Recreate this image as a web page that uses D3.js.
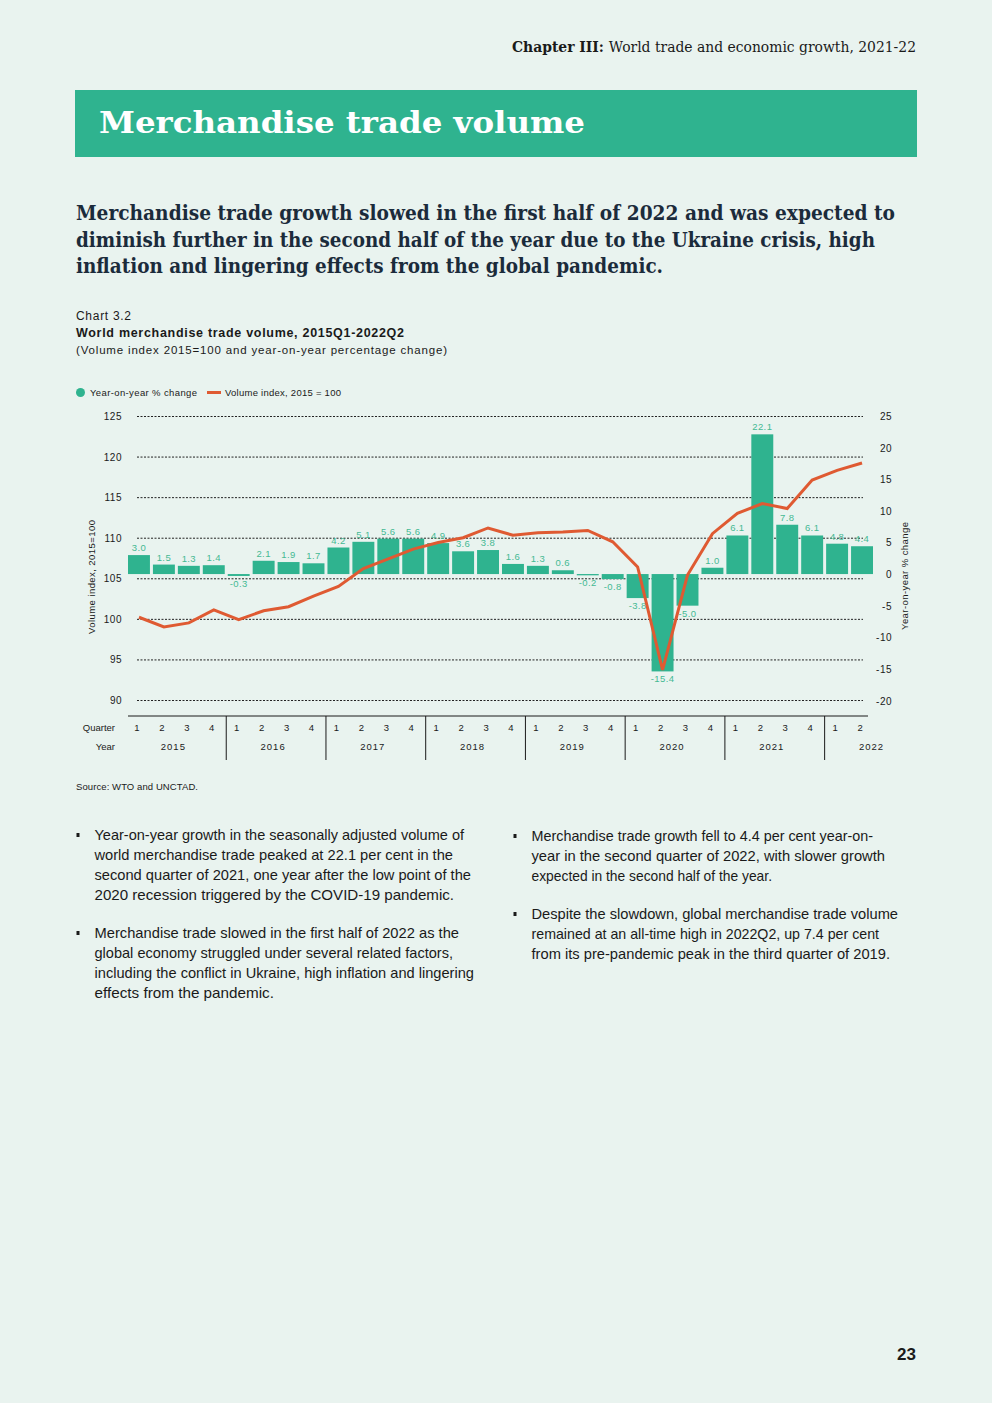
<!DOCTYPE html>
<html>
<head>
<meta charset="utf-8">
<script src="https://cdn.jsdelivr.net/npm/d3@7"></script>
<style>
  body { margin: 0; background: #e9f3ef; }
  svg { display: block; }
</style>
</head>
<body>
<svg id="page" width="992" height="1403"></svg>
<script>
// ---- data ----
var years = ["2015", "2016", "2017", "2018", "2019", "2020", "2021", "2022"];
var quarters = ["1", "2", "3", "4", "1", "2", "3", "4", "1", "2", "3", "4", "1", "2", "3", "4",
                "1", "2", "3", "4", "1", "2", "3", "4", "1", "2", "3", "4", "1", "2"];
// year-on-year % change (bars)
var yoyChange = [3.0, 1.5, 1.3, 1.4, -0.3, 2.1, 1.9, 1.7, 4.2, 5.1, 5.6, 5.6, 4.9, 3.6, 3.8, 1.6,
                 1.3, 0.6, -0.2, -0.8, -3.8, -15.4, -5.0, 1.0, 6.1, 22.1, 7.8, 6.1, 4.8, 4.4];
// volume index 2015=100 (line)
var volumeIndex = [100.2, 99.0, 99.5, 101.1, 99.9, 101.0, 101.5, 102.8, 104.0, 106.2,
                   107.4, 108.6, 109.4, 110.0, 111.2, 110.3, 110.6, 110.7, 110.9, 109.5,
                   106.4, 93.7, 105.4, 110.5, 113.0, 114.2, 113.6, 117.1, 118.3, 119.2];
var leftTicks = [90, 95, 100, 105, 110, 115, 120, 125];
var rightTicks = [-20, -15, -10, -5, 0, 5, 10, 15, 20, 25];

var GREEN = "#2fb38f", LABEL_GREEN = "#45b993", ORANGE = "#df5a32", INK = "#1a1a1a";
var SANS = "'Liberation Sans', Arial, sans-serif";
var SERIF = "'DejaVu Serif', serif";

var svg = d3.select("#page");
svg.append("rect").attr("width", 992).attr("height", 1403).attr("fill", "#e9f3ef");

// ---- page header ----
var head = svg.append("text")
    .attr("x", 916).attr("y", 52)
    .attr("text-anchor", "end")
    .attr("font-family", SERIF).attr("font-size", 14.5).attr("fill", INK)
    .attr("textLength", 404).attr("lengthAdjust", "spacingAndGlyphs");
head.append("tspan").attr("font-weight", "bold").text("Chapter III: ");
head.append("tspan").text("World trade and economic growth, 2021-22");

svg.append("rect").attr("x", 75).attr("y", 90).attr("width", 842).attr("height", 67).attr("fill", GREEN);
svg.append("text")
    .attr("x", 99).attr("y", 133)
    .attr("font-family", SERIF).attr("font-weight", "bold").attr("font-size", 30).attr("fill", "#fff")
    .attr("textLength", 486).attr("lengthAdjust", "spacingAndGlyphs")
    .text("Merchandise trade volume");

var subhead = [
  ["Merchandise trade growth slowed in the first half of 2022 and was expected to", 819],
  ["diminish further in the second half of the year due to the Ukraine crisis, high", 799],
  ["inflation and lingering effects from the global pandemic.", 587]
];
svg.append("g").selectAll("text").data(subhead).join("text")
    .attr("x", 76).attr("y", function(d, i) { return 220 + i * 26.5; })
    .attr("font-family", SERIF).attr("font-weight", "bold").attr("font-size", 20).attr("fill", "#1b2b3b")
    .attr("textLength", function(d) { return d[1]; }).attr("lengthAdjust", "spacingAndGlyphs")
    .text(function(d) { return d[0]; });

// ---- chart captions ----
svg.append("text").attr("x", 76).attr("y", 320)
    .attr("font-family", SANS).attr("font-size", 12).attr("fill", INK)
    .attr("textLength", 55).attr("lengthAdjust", "spacing").text("Chart 3.2");
svg.append("text").attr("x", 76).attr("y", 337)
    .attr("font-family", SANS).attr("font-size", 12.5).attr("font-weight", "bold").attr("fill", INK)
    .attr("textLength", 328).attr("lengthAdjust", "spacing").text("World merchandise trade volume, 2015Q1-2022Q2");
svg.append("text").attr("x", 76).attr("y", 354)
    .attr("font-family", SANS).attr("font-size", 11.5).attr("fill", INK)
    .attr("textLength", 371).attr("lengthAdjust", "spacing").text("(Volume index 2015=100 and year-on-year percentage change)");

// legend
var legend = svg.append("g").attr("font-family", SANS).attr("font-size", 9.5).attr("fill", INK);
legend.append("circle").attr("cx", 80.5).attr("cy", 392.5).attr("r", 4.5).attr("fill", GREEN);
legend.append("text").attr("x", 90).attr("y", 396)
    .attr("textLength", 107).attr("lengthAdjust", "spacing").text("Year-on-year % change");
legend.append("line").attr("x1", 207).attr("x2", 221).attr("y1", 392.5).attr("y2", 392.5)
    .attr("stroke", ORANGE).attr("stroke-width", 3);
legend.append("text").attr("x", 225).attr("y", 396)
    .attr("textLength", 116).attr("lengthAdjust", "spacing").text("Volume index, 2015 = 100");

// ---- scales ----
var x = d3.scaleBand().domain(d3.range(yoyChange.length)).range([128, 873]).paddingInner(0.12);
var yLeft = d3.scaleLinear().domain([90, 125]).range([700, 416]);
var yRight = d3.scaleLinear().domain([-20, 25]).range([700.5, 416]);
var cx = function(i) { return x(i) + x.bandwidth() / 2; };
var fmt1 = function(d) { return d.toFixed(1); };

var chart = svg.append("g");

// dotted gridlines on the left ticks
chart.append("g").selectAll("line").data(leftTicks).join("line")
    .attr("x1", 137).attr("x2", 863)
    .attr("y1", function(d) { return yLeft(d) + 0.5; }).attr("y2", function(d) { return yLeft(d) + 0.5; })
    .attr("stroke", "#222").attr("stroke-width", 1).attr("stroke-dasharray", "2,1.5");

// left axis
var gl = chart.append("g").attr("transform", "translate(122,0)")
    .call(d3.axisLeft(yLeft).tickValues(leftTicks).tickSize(0).tickPadding(0).tickFormat(String));
gl.select(".domain").remove();
gl.selectAll("text").attr("font-family", SANS).attr("font-size", 10).attr("letter-spacing", 0.5)
    .attr("fill", INK).attr("dy", "0.35em");

// right axis
var gr = chart.append("g").attr("transform", "translate(892,0)")
    .call(d3.axisRight(yRight).tickValues(rightTicks).tickSize(0).tickPadding(0).tickFormat(String));
gr.select(".domain").remove();
gr.selectAll("text").attr("font-family", SANS).attr("font-size", 10).attr("letter-spacing", 0.5)
    .attr("fill", INK).attr("text-anchor", "end").attr("dy", "0.35em");

chart.append("text").attr("transform", "translate(95,577) rotate(-90)")
    .attr("text-anchor", "middle").attr("font-family", SANS).attr("font-size", 9.5).attr("fill", INK)
    .attr("textLength", 114).attr("lengthAdjust", "spacing")
    .text("Volume index, 2015=100");
chart.append("text").attr("transform", "translate(908,576) rotate(-90)")
    .attr("text-anchor", "middle").attr("font-family", SANS).attr("font-size", 9.5).attr("fill", INK)
    .attr("textLength", 108).attr("lengthAdjust", "spacing")
    .text("Year-on-year % change");

// bars
chart.append("g").selectAll("rect").data(yoyChange).join("rect")
    .attr("x", function(d, i) { return x(i); })
    .attr("width", x.bandwidth())
    .attr("y", function(d) { return yRight(Math.max(0, d)); })
    .attr("height", function(d) { return Math.abs(yRight(d) - yRight(0)); })
    .attr("fill", GREEN);

// bar labels
chart.append("g").selectAll("text").data(yoyChange).join("text")
    .attr("x", function(d, i) { return cx(i); })
    .attr("y", function(d) { return d >= 0 ? yRight(d) - 4 : yRight(d) + 11; })
    .attr("text-anchor", "middle").attr("font-family", SANS).attr("font-size", 9.5)
    .attr("letter-spacing", 0.4).attr("fill", LABEL_GREEN)
    .text(fmt1);

// volume index line
var line = d3.line().x(function(d, i) { return cx(i); }).y(function(d) { return yLeft(d); });
chart.append("path").datum(volumeIndex)
    .attr("d", line).attr("fill", "none")
    .attr("stroke", ORANGE).attr("stroke-width", 3).attr("stroke-linejoin", "miter");

// ---- quarter / year axis ----
var xa = chart.append("g").attr("font-family", SANS).attr("font-size", 9.5).attr("fill", INK);
xa.append("line").attr("x1", 128).attr("x2", 868).attr("y1", 716).attr("y2", 716)
    .attr("stroke", INK).attr("stroke-width", 1);
xa.selectAll(".q").data(quarters).join("text").attr("class", "q")
    .attr("x", function(d, i) { return cx(i) - 2; }).attr("y", 731)
    .attr("text-anchor", "middle").text(function(d) { return d; });
xa.selectAll(".yr").data(years).join("text").attr("class", "yr")
    .attr("x", function(d, i) { return cx(i * 4) + 1.5 * x.step() - 3; }).attr("y", 750)
    .attr("text-anchor", "middle").attr("letter-spacing", 1).text(function(d) { return d; });
xa.selectAll(".sep").data(years.slice(1)).join("line").attr("class", "sep")
    .attr("x1", function(d, i) { return x((i + 1) * 4) - x.step() * x.paddingInner() / 2; })
    .attr("x2", function(d, i) { return x((i + 1) * 4) - x.step() * x.paddingInner() / 2; })
    .attr("y1", 716).attr("y2", 760).attr("stroke", INK).attr("stroke-width", 1);
xa.append("text").attr("x", 115).attr("y", 731).attr("text-anchor", "end").text("Quarter");
xa.append("text").attr("x", 115).attr("y", 750).attr("text-anchor", "end").text("Year");

svg.append("text").attr("x", 76).attr("y", 790)
    .attr("font-family", SANS).attr("font-size", 9.5).attr("fill", INK)
    .attr("textLength", 122).attr("lengthAdjust", "spacing")
    .text("Source: WTO and UNCTAD.");

// ---- bullet text: [line, right edge x] ----
var leftBullets = [
  [["Year-on-year growth in the seasonally adjusted volume of", 464],
   ["world merchandise trade peaked at 22.1 per cent in the", 453],
   ["second quarter of 2021, one year after the low point of the", 471],
   ["2020 recession triggered by the COVID-19 pandemic.", 454]],
  [["Merchandise trade slowed in the first half of 2022 as the", 459],
   ["global economy struggled under several related factors,", 453],
   ["including the conflict in Ukraine, high inflation and lingering", 474],
   ["effects from the pandemic.", 274]]
];
var rightBullets = [
  [["Merchandise trade growth fell to 4.4 per cent year-on-", 873],
   ["year in the second quarter of 2022, with slower growth", 885],
   ["expected in the second half of the year.", 772]],
  [["Despite the slowdown, global merchandise trade volume", 898],
   ["remained at an all-time high in 2022Q2, up 7.4 per cent", 879],
   ["from its pre-pandemic peak in the third quarter of 2019.", 890]]
];

function drawColumn(blocks, x0, y0) {
  var g = svg.append("g").attr("font-family", SANS).attr("font-size", 14.5).attr("fill", INK);
  var y = y0;
  blocks.forEach(function(lines) {
    g.append("rect").attr("x", x0).attr("y", y - 7).attr("width", 3).attr("height", 4).attr("fill", INK);
    lines.forEach(function(l, i) {
      g.append("text").attr("x", x0 + 18).attr("y", y + i * 20)
          .attr("textLength", l[1] - x0 - 18).attr("lengthAdjust", "spacingAndGlyphs")
          .text(l[0]);
    });
    y += lines.length * 20 + 18;
  });
}
drawColumn(leftBullets, 76.5, 840);
drawColumn(rightBullets, 513.5, 841);

svg.append("text").attr("x", 916).attr("y", 1360).attr("text-anchor", "end")
    .attr("font-family", SANS).attr("font-weight", "bold").attr("font-size", 17).attr("fill", INK)
    .text("23");
</script>
</body>
</html>
